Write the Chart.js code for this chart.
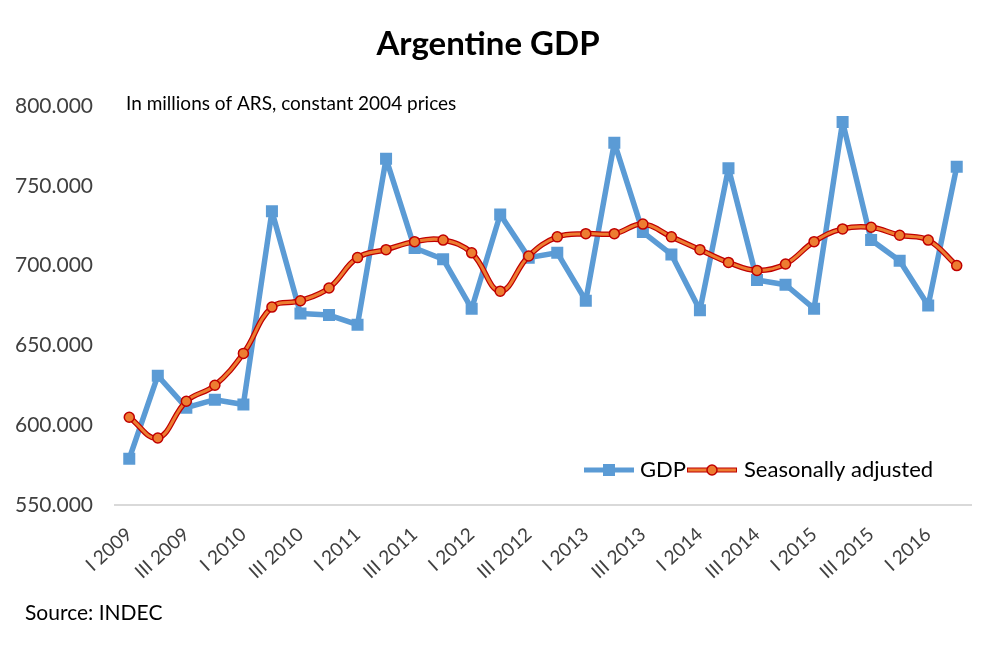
<!DOCTYPE html>
<html><head><meta charset="utf-8">
<script src="https://cdn.jsdelivr.net/npm/chart.js@4/dist/chart.umd.min.js"></script>
<style>html,body{margin:0;padding:0;background:#fff}#wrap{width:995px;height:645px}</style>
</head><body><div id="wrap"><canvas id="c" width="995" height="645"></canvas></div>
<script>
const quarters = ["I 2009","II 2009","III 2009","IV 2009","I 2010","II 2010","III 2010","IV 2010","I 2011","II 2011","III 2011","IV 2011","I 2012","II 2012","III 2012","IV 2012","I 2013","II 2013","III 2013","IV 2013","I 2014","II 2014","III 2014","IV 2014","I 2015","II 2015","III 2015","IV 2015","I 2016","II 2016"];
const gdp = [579,631,611,616,613,734,670,669,663,767,711,704,673,732,705,708,678,777,721,707,672,761,691,688,673,790,716,703,675,762];
const seasonal = [605,592,615,625,645,674,678,686,705,710,715,716,708,684,706,718,720,720,726,718,710,702,697,701,715,723,724,719,716,700];
const yTicks = [550,600,650,700,750,800];
const FONT = "Lato, 'Open Sans', sans-serif";

const textPlugin = {
  id: 'texts',
  afterDraw(chart) {
    const ctx = chart.ctx;
    ctx.save();
    ctx.fillStyle = '#000';
    ctx.textBaseline = 'middle';
    ctx.font = "bold 33px " + FONT;
    ctx.textAlign = 'center';
    ctx.fillText('Argentine GDP', 488, 44);
    ctx.textAlign = 'left';
    ctx.font = "19px " + FONT;
    ctx.fillText('In millions of ARS, constant 2004 prices', 126, 104);
    ctx.font = "21px " + FONT;
    ctx.fillText('Source: INDEC', 25, 613);
    // legend
    const ly = 470;
    ctx.lineCap = 'butt';
    ctx.strokeStyle = '#5B9BD5'; ctx.lineWidth = 5;
    ctx.beginPath(); ctx.moveTo(584, ly); ctx.lineTo(634, ly); ctx.stroke();
    ctx.fillStyle = '#5B9BD5'; ctx.fillRect(603, ly-6, 12, 12);
    ctx.fillStyle = '#000'; ctx.font = "22px " + FONT;
    ctx.fillText('GDP', 640, ly);
    ctx.strokeStyle = '#C00000'; ctx.lineWidth = 5;
    ctx.beginPath(); ctx.moveTo(687, ly); ctx.lineTo(737, ly); ctx.stroke();
    ctx.strokeStyle = '#ED7D31'; ctx.lineWidth = 3;
    ctx.beginPath(); ctx.moveTo(688, ly); ctx.lineTo(736, ly); ctx.stroke();
    ctx.fillStyle = '#ED7D31'; ctx.strokeStyle = '#C00000'; ctx.lineWidth = 1.5;
    ctx.beginPath(); ctx.arc(712, ly, 5, 0, Math.PI*2); ctx.fill(); ctx.stroke();
    ctx.fillStyle = '#000';
    ctx.fillText('Seasonally adjusted', 744, ly);
    ctx.restore();
  }
};

new Chart(document.getElementById('c'), {
  type: 'line',
  data: {
    labels: quarters,
    datasets: [
      { label: 'Seasonally adjusted', data: seasonal, order: 0, borderColor: '#ED7D31', borderWidth: 3, tension: 0.4,
        pointRadius: 5, pointBackgroundColor: '#ED7D31', pointBorderColor: '#C00000', pointBorderWidth: 1.5, fill: false },
      { label: 'sa-outline', data: seasonal, order: 1, borderColor: '#C00000', borderWidth: 5.5, tension: 0.4, pointRadius: 0, fill: false },
      { label: 'GDP', data: gdp, order: 2, borderColor: '#5B9BD5', borderWidth: 5.5, tension: 0, borderJoinStyle: 'round',
        pointStyle: 'rect', pointRadius: 8.5, pointBackgroundColor: '#5B9BD5', pointBorderColor: '#5B9BD5', pointBorderWidth: 0, fill: false }
    ]
  },
  options: {
    responsive: false,
    animation: false,
    layout: { padding: { left: 0, right: 24, top: 106, bottom: 0 } },
    plugins: { legend: { display: false }, title: { display: false }, tooltip: { enabled: false } },
    scales: {
      x: {
        offset: true,
        grid: { display: false, drawTicks: false },
        border: { display: true, color: '#D9D9D9', width: 2 },
        ticks: {
          autoSkip: false, maxRotation: 42, minRotation: 42, color: '#404040', padding: 18,
          font: { family: FONT, size: 19 },
          callback: (v, i) => i % 2 === 0 ? quarters[i] : ''
        },
        afterFit: (s) => { s.height = 140; }
      },
      y: {
        min: yTicks[0], max: yTicks[yTicks.length-1],
        grid: { display: false, drawTicks: false },
        border: { display: false },
        afterBuildTicks: (s) => { s.ticks = yTicks.map(v => ({ value: v })); },
        ticks: { color: '#404040', padding: 22, font: { family: FONT, size: 21 },
          callback: (v) => v + '.000' },
        afterFit: (s) => { s.width = 115; }
      }
    }
  },
  plugins: [textPlugin]
});
</script></body></html>
